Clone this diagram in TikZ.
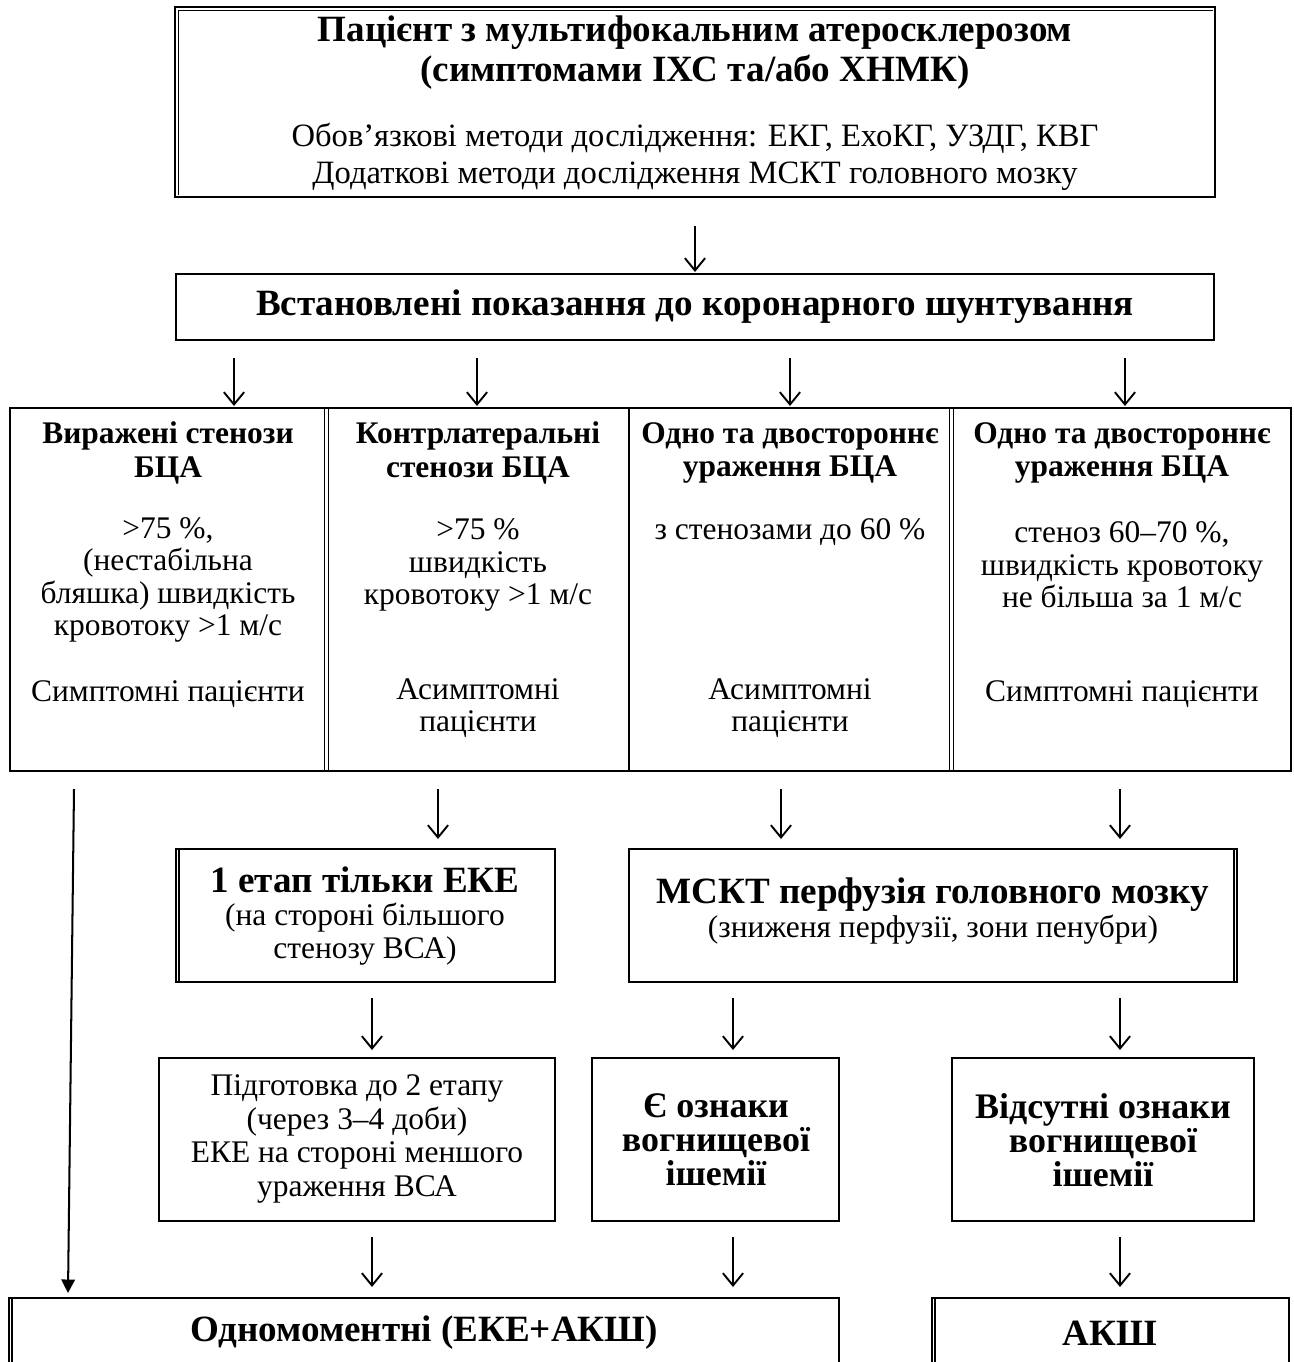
\documentclass[tikz,border=0pt]{standalone}
\usepackage{fontspec}
\setmainfont{Liberation Serif}
\usetikzlibrary{arrows.meta,fit,calc}
\tikzset{
  bxm/.style={draw, line width=0.9pt, inner sep=0pt},
  bxk/.style={draw, line width=1.3pt, inner sep=0pt},
  bxn/.style={draw, line width=0.65pt, inner sep=0pt},
  inl/.style={line width=0.5pt},
  arr/.style={line width=0.85pt, -{Straight Barb[length=5.5pt,width=9pt,line width=0.85pt]}},
  longarr/.style={line width=0.9pt, -{Triangle[length=6pt,width=6pt]}},
  tx/.style={align=center, inner sep=0pt, font=\fontsize{14pt}{14.5pt}\selectfont},
  txw/.style={align=center, inner sep=0pt, font=\fontsize{14.5pt}{16.3pt}\selectfont},
  hd/.style={align=center, inner sep=0pt, font=\fontsize{14pt}{15pt}\selectfont\bfseries},
  big/.style={align=center, inner sep=0pt, font=\fontsize{16.5pt}{17.8pt}\selectfont\bfseries},
  bigt/.style={align=center, inner sep=0pt, font=\fontsize{16pt}{15.2pt}\selectfont\bfseries},
}
\begin{document}
\begin{tikzpicture}[x=0.445pt,y=-0.445pt]
\useasboundingbox (0,0) rectangle (1294,1362);
\clip (0,0) rectangle (1294,1362);

% ---- top box
\node[bxm, fit={(175,7)(1215,197)}] (top) {};
\draw[inl] ($(top.south west)+(4.5,-3)$) -- ($(top.north west)+(4.5,4.5)$) -- ($(top.north east)+(-3,4.5)$);
\node[big] (title) at (695,53) {Пацієнт з мультифокальним атеросклерозом\\(симптомами ІХС та/або ХНМК)};
\node[txw] (methods) at (695,157) {Обов’язкові методи дослідження: ЕКГ, ЕхоКГ, УЗДГ, КВГ\\Додаткові методи дослідження МСКТ головного мозку};

\coordinate (a1s) at (695,226);
\coordinate (a1e) at (695,272);
\draw[arr] (a1s) -- (a1e);

% ---- indications
\node[bxm, fit={(176,274)(1214,340)}] (ind) {};
\node[big] (indt) at (695,307) {Встановлені показання до коронарного шунтування};

\foreach \x/\n in {234/1,477/2,790/3,1125/4}{
  \coordinate (b\n s) at (\x,358);
  \coordinate (b\n e) at (\x,406);
  \draw[arr] (b\n s) -- (b\n e);
}

% ---- four columns
\node[bxm, fit={(10,408)(1291,771)}] (cols) {};
\draw[line width=0.45pt] (324.5,408) -- (324.5,771) (328.5,408) -- (328.5,771);
\draw[line width=0.9pt] (629,408) -- (629,771);
\draw[line width=0.45pt] (949.5,408) -- (949.5,771) (953.5,408) -- (953.5,771);

\node[hd] (h1) at (168,453) {Виражені стенози\\БЦА};
\node[hd] (h2) at (478,453) {Контрлатеральні\\стенози БЦА};
\node[hd] (h3) at (790,453) {Одно та двостороннє\\ураження БЦА};
\node[hd] (h4) at (1122,453) {Одно та двостороннє\\ураження БЦА};

\node[tx] (t1) at (168,580) {>75 \%,\\(нестабільна\\бляшка) швидкість\\кровотоку >1 м/с};
\node[tx] (t2) at (478,565) {>75 \%\\швидкість\\кровотоку >1 м/с};
\node[tx] (t3) at (790,532) {з стенозами до 60 \%};
\node[tx] (t4) at (1122,565) {стеноз 60–70 \%,\\швидкість кровотоку\\не більша за 1 м/с};

\node[tx] (f1) at (168,694) {Симптомні пацієнти};
\node[tx] (f2) at (478,708) {Асимптомні\\пацієнти};
\node[tx] (f3) at (790,708) {Асимптомні\\пацієнти};
\node[tx] (f4) at (1122,694) {Симптомні пацієнти};

% ---- long arrow
\coordinate (las) at (74,789);
\coordinate (lae) at (68,1293);
\draw[longarr] (las) -- (lae);

\foreach \x/\n in {438/1,781/2,1120/3}{
  \coordinate (c\n s) at (\x,789);
  \coordinate (c\n e) at (\x,839);
  \draw[arr] (c\n s) -- (c\n e);
}

% ---- stage 1 and MSCT
\node[bxk, fit={(176,849)(555,982)}] (st1) {};
\draw[inl] ($(st1.north west)+(4.5,2)$) -- ($(st1.south west)+(4.5,-2)$);
\node[big] (st1t) at (365,880) {1 етап тільки ЕКЕ};
\node[tx] (st1s) at (365,934) {(на стороні більшого\\стенозу ВСА)};

\node[bxk, fit={(629,849)(1237,982)}] (msct) {};
\draw[inl] ($(msct.north east)+(-4.5,2)$) -- ($(msct.south east)+(-4.5,-2)$);
\node[big] (mscTt) at (933,895) {МСКТ перфузія головного мозку};
\node[tx] (mscTs) at (933,930) {(зниженя перфузії, зони пенубри)};

\foreach \x/\n in {372/1,733/2,1120/3}{
  \coordinate (d\n s) at (\x,998);
  \coordinate (d\n e) at (\x,1050);
  \draw[arr] (d\n s) -- (d\n e);
}

% ---- third row
\node[bxn, fit={(159,1058)(555,1221)}] (prep) {};
\node[tx, font=\fontsize{14pt}{15pt}\selectfont] (prept) at (357,1139) {Підготовка до 2 етапу\\(через 3–4 доби)\\ЕКЕ на стороні меншого\\ураження ВСА};

\node[bxn, fit={(592,1058)(839,1221)}] (yes) {};
\node[bigt] (yest) at (716,1140) {Є ознаки\\вогнищевої\\ішемії};

\node[bxn, fit={(952,1058)(1254,1221)}] (no) {};
\node[bigt] (not) at (1103,1140) {Відсутні ознаки\\вогнищевої\\ішемії};

\foreach \x/\n in {372/1,733/2,1120/3}{
  \coordinate (e\n s) at (\x,1237);
  \coordinate (e\n e) at (\x,1287);
  \draw[arr] (e\n s) -- (e\n e);
}

% ---- bottom boxes
\node[bxk, fit={(9,1298)(839,1420)}] (one) {};
\draw[inl] ($(one.north west)+(4.5,2)$) -- ($(one.south west)+(4.5,-2)$);
\node[big] (onet) at (424,1333) {Одномоментні (ЕКЕ+АКШ)};

\node[bxk, fit={(932,1298)(1289,1420)}] (cabg) {};
\draw[inl] ($(cabg.north west)+(4.5,2)$) -- ($(cabg.south west)+(4.5,-2)$);
\node[big] (cabgt) at (1110,1333) {АКШ};
\end{tikzpicture}
\end{document}
